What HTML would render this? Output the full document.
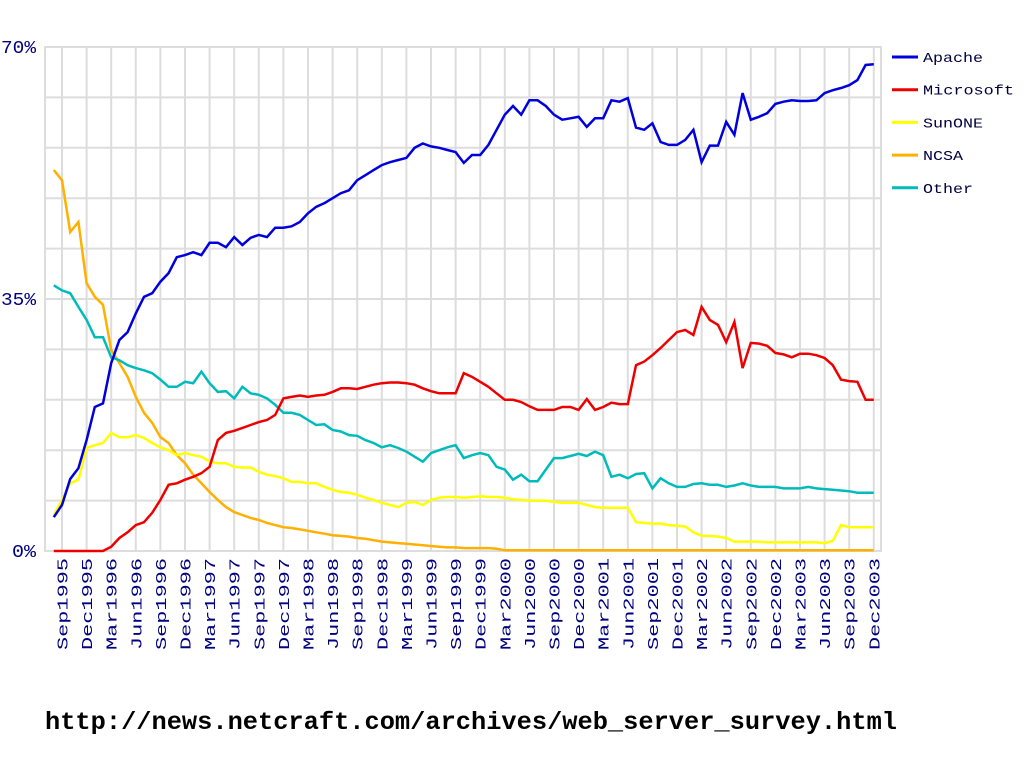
<!DOCTYPE html>
<html><head><meta charset="utf-8"><title>Web server survey</title>
<style>
html,body{margin:0;padding:0;background:#fff;}
svg{display:block;}
</style></head>
<body>
<svg id="chart" width="1024" height="768" viewBox="0 0 1024 768" xmlns="http://www.w3.org/2000/svg">
<rect x="0" y="0" width="1024" height="768" fill="#fff"/>
<g id="grid"></g>
<g id="series"></g>
<g id="yaxis"></g>
<g id="xaxis"></g>
<g id="legend"></g>
<text x="45" y="729" font-family="'Liberation Mono', monospace" font-weight="bold" font-size="25" fill="#000" textLength="852" lengthAdjust="spacingAndGlyphs">http://news.netcraft.com/archives/web_server_survey.html</text>
</svg>
<script>
// Months Aug1995 .. Dec2003 (101 monthly points)
const startYear = 1995, startMonth = 7;
const apache = [4.7,6.4,10,11.5,15.4,
20,20.5,26.1,29.3,30.4,33,35.3,35.8,37.4,38.6,40.8,41.1,
41.5,41.1,42.8,42.8,42.2,43.6,42.5,43.5,43.9,43.6,44.9,44.9,
45.1,45.7,46.9,47.8,48.3,49,49.7,50.1,51.5,52.2,52.9,53.6,
54,54.3,54.6,56,56.6,56.2,56,55.7,55.4,53.9,55,55,
56.4,58.5,60.6,61.8,60.6,62.6,62.6,61.8,60.6,59.9,60.1,60.3,
58.9,60.1,60.1,62.6,62.4,62.9,58.8,58.5,59.4,56.8,56.4,56.4,
57.1,58.5,54,56.3,56.3,59.6,57.8,63.6,59.9,60.3,60.8,62.1,
62.4,62.6,62.5,62.5,62.6,63.6,64,64.3,64.7,65.4,67.5,67.6];
const microsoft = [0,0,0,0,0,
0,0,0.6,1.8,2.6,3.6,4.0,5.3,7.1,9.2,9.4,9.9,
10.3,10.8,11.7,15.4,16.4,16.7,17.1,17.5,17.9,18.2,18.9,21.2,
21.4,21.6,21.4,21.6,21.7,22.1,22.6,22.6,22.5,22.8,23.1,23.3,
23.4,23.4,23.3,23.1,22.6,22.2,21.9,21.9,21.9,24.7,24.2,23.5,
22.8,21.9,21,21,20.7,20.1,19.6,19.6,19.6,20,20,19.6,
21.1,19.6,20,20.6,20.4,20.4,25.8,26.3,27.2,28.2,29.3,30.4,
30.7,30,33.9,32.1,31.4,29,31.8,25.4,28.9,28.8,28.5,27.5,
27.3,26.9,27.4,27.4,27.2,26.8,25.8,23.8,23.6,23.5,21,21];
const sunone = [5,7.1,9.4,9.9,14.3,
14.7,15,16.4,15.8,15.8,16.1,15.7,15,14.4,14,13.3,13.6,
13.3,13.1,12.4,12.2,12.2,11.7,11.6,11.6,11,10.6,10.4,10.1,
9.6,9.6,9.4,9.4,8.9,8.5,8.2,8.1,7.8,7.4,7.1,6.7,
6.4,6.1,6.7,6.8,6.4,7.1,7.4,7.5,7.5,7.4,7.5,7.6,
7.5,7.5,7.4,7.2,7.1,7.0,7.0,7.0,6.8,6.7,6.7,6.7,
6.4,6.1,6.0,6.0,6.0,6.0,4.0,3.9,3.8,3.8,3.6,3.5,
3.4,2.6,2.1,2.1,2.0,1.8,1.3,1.3,1.3,1.3,1.2,1.2,
1.2,1.2,1.2,1.2,1.2,1.1,1.4,3.6,3.3,3.3,3.3,3.3];
const ncsa = [52.9,51.5,44.3,45.7,37.2,
35.3,34.2,27.9,26.1,24.2,21.4,19.2,17.8,15.8,15,13.3,12.2,
10.6,9.4,8.2,7.1,6.1,5.4,5,4.6,4.3,3.9,3.6,3.3,
3.2,3.0,2.8,2.6,2.4,2.2,2.1,2.0,1.8,1.7,1.5,1.3,
1.2,1.1,1.0,0.9,0.8,0.7,0.6,0.5,0.5,0.4,0.4,0.4,
0.4,0.3,0.1,0.1,0.1,0.1,0.1,0.1,0.1,0.1,0.1,0.1,
0.1,0.1,0.1,0.1,0.1,0.1,0.1,0.1,0.1,0.1,0.1,0.1,
0.1,0.1,0.1,0.1,0.1,0.1,0.1,0.1,0.1,0.1,0.1,0.1,
0.1,0.1,0.1,0.1,0.1,0.1,0.1,0.1,0.1,0.1,0.1,0.1];
const other = [36.9,36.2,35.8,33.9,32.1,
29.7,29.7,26.9,26.5,25.8,25.4,25.1,24.7,23.8,22.8,22.8,23.5,
23.3,24.9,23.3,22.1,22.2,21.2,22.8,21.9,21.7,21.2,20.3,19.2,
19.2,18.9,18.2,17.5,17.6,16.8,16.6,16.1,16,15.4,15,14.4,
14.7,14.3,13.8,13.1,12.4,13.6,14,14.4,14.7,12.9,13.3,13.6,
13.3,11.7,11.3,9.9,10.6,9.7,9.7,11.3,12.9,12.9,13.2,13.5,
13.2,13.8,13.3,10.3,10.6,10.1,10.7,10.8,8.7,10.1,9.4,8.9,
8.9,9.3,9.4,9.2,9.2,8.9,9.1,9.4,9.1,8.9,8.9,8.9,
8.7,8.7,8.7,8.9,8.7,8.6,8.5,8.4,8.3,8.1,8.1,8.1];
const seriesNames = ["Apache","Microsoft","SunONE","NCSA","Other"];
const seriesColors = ["#0000dd","#ee0000","#ffff00","#ffb000","#00bbbb"];
const yTickValues = [0,35,70];
const yTickLabels = ["0%","35%","70%"];
const monthNames = ["Jan","Feb","Mar","Apr","May","Jun","Jul","Aug","Sep","Oct","Nov","Dec"];

const NS = "http://www.w3.org/2000/svg";
const X0 = 53.8, DX = 8.2, Y0 = 551, YMAX = 70, PLOT_H = 504;
const PLOT_L = 45, PLOT_R = 881, PLOT_T = 47;
function xPos(i){ return X0 + DX * i; }
function yPos(v){ return Y0 - v / YMAX * PLOT_H; }
function mk(tag, attrs){ const e = document.createElementNS(NS, tag); for (const k in attrs) e.setAttribute(k, attrs[k]); return e; }

const grid = document.getElementById('grid');
const bg = mk('rect', {x:PLOT_L, y:PLOT_T, width:PLOT_R-PLOT_L, height:Y0-PLOT_T, fill:'none', stroke:'#dddddd', 'stroke-width':2});


grid.appendChild(bg);
for (let k = 1; k < 10; k++) {
  const y = yPos(k * 7);
  const l = mk('line', {x1:PLOT_L, x2:PLOT_R, y1:y, y2:y, stroke:'#dddddd', 'stroke-width':2});
  
  
  grid.appendChild(l);
}
const n = apache.length;
const xaxis = document.getElementById('xaxis');
for (let i = 1; i < n; i += 3) {
  const x = xPos(i);
  const l = mk('line', {x1:x, x2:x, y1:PLOT_T, y2:Y0, stroke:'#dddddd', 'stroke-width':2});
  
  
  grid.appendChild(l);
  const m = (startMonth + i) % 12, yr = startYear + Math.floor((startMonth + i) / 12);
  const t = mk('text', {x:0, y:0, transform:`translate(${x+5.5},558) rotate(-90)`, 'text-anchor':'end', 'font-family':"'Liberation Mono', monospace", 'font-size':15, fill:'#000080', textLength:92, lengthAdjust:'spacingAndGlyphs'});
  t.textContent = monthNames[m] + yr;
  
  
  xaxis.appendChild(t);
}

const yaxis = document.getElementById('yaxis');
const yLabelWidths = [24, 35, 35];
yTickValues.forEach((v, k) => {
  const t = mk('text', {x:36, y:yPos(v)+6, 'text-anchor':'end', 'font-family':"'Liberation Mono', monospace", 'font-size':18, fill:'#000080', textLength:yLabelWidths[k], lengthAdjust:'spacingAndGlyphs'});
  t.textContent = yTickLabels[k];
  
  
  yaxis.appendChild(t);
});

const allSeries = [apache, microsoft, sunone, ncsa, other];
const drawOrder = [3, 2, 4, 1, 0];
const sg = document.getElementById('series');
drawOrder.forEach(s => {
  const pts = allSeries[s].map((v, i) => xPos(i).toFixed(1) + ',' + yPos(v).toFixed(1)).join(' ');
  const p = mk('polyline', {points:pts, fill:'none', stroke:seriesColors[s], 'stroke-width':2.5, 'stroke-linejoin':'miter'});
  
  
  sg.appendChild(p);
});

const lg = document.getElementById('legend');
const legendWidths = [60, 91, 60, 40, 50];
seriesNames.forEach((name, s) => {
  const y = 57 + s * 32.7;
  const g = mk('g', {});
  
  
  g.appendChild(mk('line', {x1:892, x2:918, y1:y, y2:y, stroke:seriesColors[s], 'stroke-width':3}));
  const t = mk('text', {x:923, y:y+5, 'font-family':"'Liberation Mono', monospace", 'font-size':14, fill:'#000040', textLength:legendWidths[s], lengthAdjust:'spacingAndGlyphs'});
  t.textContent = name;
  g.appendChild(t);
  lg.appendChild(g);
});
</script>
</body></html>
